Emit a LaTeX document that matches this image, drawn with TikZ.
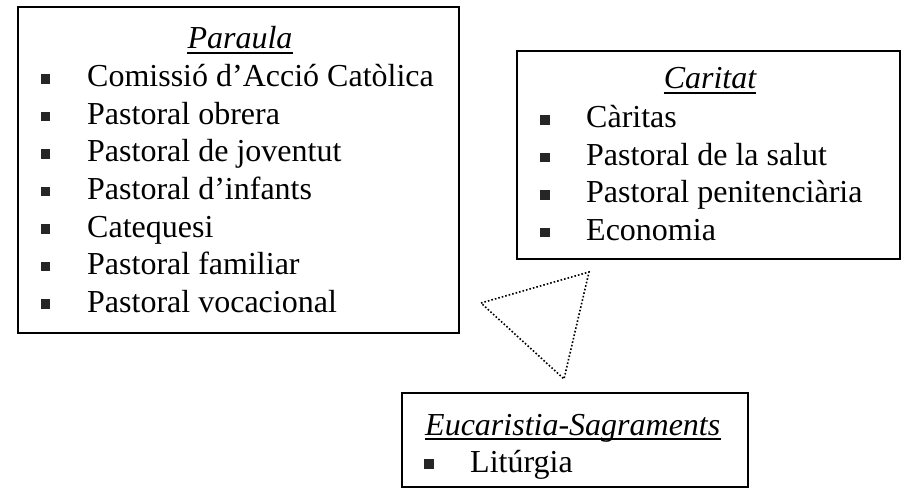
\documentclass[tikz,border=0pt]{standalone}
\usepackage{fontspec}
\setmainfont{Liberation Serif}
\begin{document}
\begin{tikzpicture}[x=1pt,y=-1pt,
  box/.style={draw=black,line width=1.8pt,rectangle,inner sep=0pt},
  itemtxt/.style={anchor=base west,inner sep=0pt,font=\fontsize{32}{37}\selectfont},
  titletxt/.style={anchor=base,inner sep=0pt,font=\fontsize{32}{37}\selectfont\itshape},
  bul/.style={fill=black!85,minimum size=9.5pt,inner sep=0pt,rectangle},
  uline/.style={line width=1.2pt},
  tri/.style={dotted,line width=1.6pt}
]
\useasboundingbox (0,0) rectangle (905,489);
% boxes
\node[box,minimum width=441pt,minimum height=326pt] (paraula) at (238.5,170) {};
\node[box,minimum width=383pt,minimum height=208pt] (caritat) at (708.5,155) {};
\node[box,minimum width=346pt,minimum height=94pt] (eucar) at (575,440) {};
% Paraula
\node[titletxt] (t1) at (240,49) {Paraula};
\draw[uline] ([yshift=-4pt]t1.base west) -- ([yshift=-4pt]t1.base east);
\foreach \txt [count=\i] in {Comissió d’Acció Catòlica,Pastoral obrera,Pastoral de joventut,Pastoral d’infants,Catequesi,Pastoral familiar,Pastoral vocacional}{
  \node[itemtxt] (p\i) at (87,{87+(\i-1)*37.5}) {\txt};
  \node[bul] (pb\i) at (45.5,{79+(\i-1)*37.5}) {};
}
% Caritat
\node[titletxt] (t2) at (710,89) {Caritat};
\draw[uline] ([yshift=-4pt]t2.base west) -- ([yshift=-4pt]t2.base east);
\foreach \txt [count=\i] in {Càritas,Pastoral de la salut,Pastoral penitenciària,Economia}{
  \node[itemtxt] (c\i) at (586,{128+(\i-1)*37.5}) {\txt};
  \node[bul] (cb\i) at (545,{120+(\i-1)*37.5}) {};
}
% Eucaristia
\node[titletxt,anchor=base west] (t3) at (425,435) {Eucaristia-Sagraments};
\draw[uline] ([yshift=-4pt]t3.base west) -- ([yshift=-4pt]t3.base east);
\node[itemtxt] (e1) at (470,472) {Litúrgia};
\node[bul] (eb1) at (429,464) {};
% triangle
\coordinate (va) at (481,303);
\coordinate (vb) at (589,272);
\coordinate (vc) at (564,379);
\draw[tri] (va) -- (vb) -- (vc) -- cycle;
\end{tikzpicture}
\end{document}
